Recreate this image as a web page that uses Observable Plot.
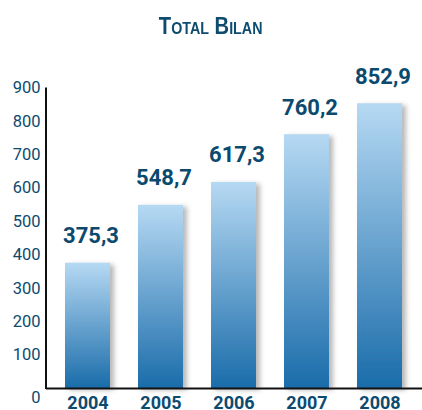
<!DOCTYPE html>
<html><head><meta charset="utf-8">
<script src="https://cdn.jsdelivr.net/npm/d3@7"></script>
<script src="https://cdn.jsdelivr.net/npm/@observablehq/plot@0.6"></script>
<style>
body{margin:0;background:#fff;width:422px;height:410px;overflow:hidden;}
#title{height:50px;line-height:52px;text-align:center;}
#title span{display:inline-block;transform:scaleX(0.84);font-family:"Liberation Sans","Roboto",sans-serif;font-weight:bold;font-variant:small-caps;font-size:24px;color:#0e4c6f;}
</style></head>
<body>
<div id="title"><span>Total Bilan</span></div>
<div id="chart"></div>
<script>
const years = ["2004","2005","2006","2007","2008"];
const values = [375.3, 548.7, 617.3, 760.2, 852.9];
const labels = ["375,3","548,7","617,3","760,2","852,9"];
const yTicks = [100,200,300,400,500,600,700,800,900];
const data = years.map((y,i)=>({year:y, value:values[i], label:labels[i]}));

const defs = () => {
  const g = d3.create("svg:defs");
  const lg = g.append("linearGradient").attr("id","barGrad").attr("x1",0).attr("y1",0).attr("x2",0).attr("y2",1);
  lg.append("stop").attr("offset","0%").attr("stop-color","#b6d9f3");
  lg.append("stop").attr("offset","100%").attr("stop-color","#1a6caa");
  const f = g.append("filter").attr("id","shadow").attr("x","-20%").attr("y","-20%").attr("width","150%").attr("height","140%");
  f.append("feDropShadow").attr("dx",4).attr("dy",2).attr("stdDeviation",2.5).attr("flood-color","#000").attr("flood-opacity",0.28);
  return g.node();
};

// left axis line drawn along the plot frame's left edge
const yAxisLine = (index, scales, values, dim) => {
  return d3.create("svg:line")
    .attr("x1", dim.marginLeft).attr("x2", dim.marginLeft)
    .attr("y1", dim.height - dim.marginBottom + 1).attr("y2", dim.marginTop)
    .attr("stroke", "#111").attr("stroke-width", 2).node();
};

const chart = Plot.plot({
  width: 422,
  height: 360,
  marginLeft: 46,
  marginRight: 0,
  marginTop: 37.5,
  marginBottom: 22,
  style: {fontFamily: "Roboto, sans-serif", color: "#0d4a70", background: "#fff"},
  x: {domain: years, paddingInner: 0.38, paddingOuter: 0.26, label: null},
  y: {domain: [0, 900], label: null},
  marks: [
    defs,
    Plot.barY(data, {x: "year", y: "value", fill: "url(#barGrad)"}),
    Plot.ruleY([0], {stroke: "#111", strokeWidth: 2}),
    yAxisLine,
    Plot.axisY(yTicks, {tickSize: 0, tickPadding: 6, fontSize: 16.5, fill: "#0d4a70", label: null}),
    Plot.text([0], {frameAnchor: "left", y: d => d, text: d => String(d), dx: -6, dy: 9, textAnchor: "end", fontSize: 16.5, fill: "#0d4a70"}),
    Plot.axisX({tickSize: 0, tickPadding: 8, fontSize: 18, fontWeight: "bold", fill: "#0d4a70", label: null}),
    Plot.text(data, {x: "year", y: "value", text: "label", dy: -20, dx: 3, lineAnchor: "bottom", fontSize: 22, fontWeight: "bold", fill: "#0b4a6e"})
  ]
});
document.getElementById("chart").appendChild(chart);
d3.select(chart).selectAll("g[aria-label='bar'] rect").attr("filter","url(#shadow)");
</script>
</body></html>
